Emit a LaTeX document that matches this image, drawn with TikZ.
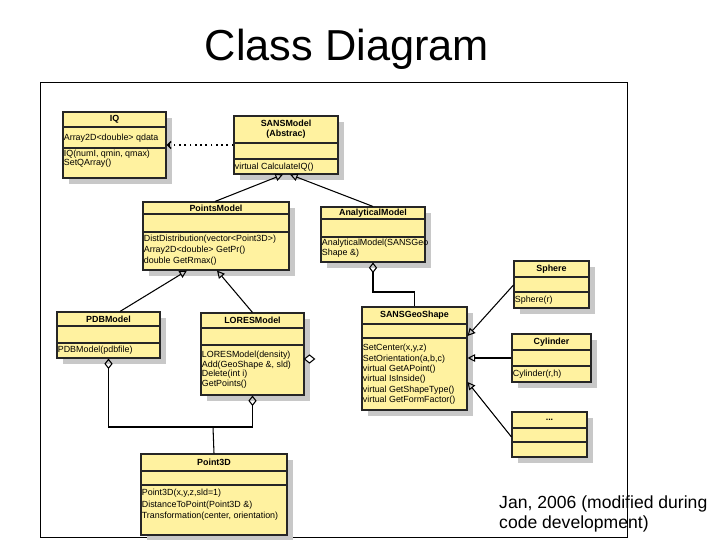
\documentclass[tikz,border=0pt]{standalone}
\usepackage{fontspec}
\setmainfont{Liberation Sans}
\usetikzlibrary{arrows.meta,fit,shadows}
\definecolor{umlyellow}{RGB}{255,242,160}
\definecolor{umlshadow}{RGB}{200,200,200}

\begin{document}
\begin{tikzpicture}[x=0.03cm,y=-0.03cm,
	umlbox/.style={draw=black!85, line width=0.9pt, fill=umlyellow, inner sep=0pt,
		drop shadow={shadow xshift=0.18cm, shadow yshift=-0.18cm, fill=umlshadow, opacity=1}},
	umlsep/.style={draw=black!85, line width=0.9pt},
	umltitle/.style={font=\fontsize{7.6}{8.6}\selectfont\bfseries, align=center, inner sep=0pt},
	umltext/.style={font=\fontsize{7.6}{#1}\selectfont, align=left, anchor=north west, inner xsep=1pt, inner ysep=0pt},
	umltext/.default=8.5,
	inherit/.style={line width=0.9pt, -{Triangle[open, length=6.5pt, width=6.5pt]}},
	aggr/.style={line width=0.9pt, {Diamond[open, length=9pt, width=7pt]}-},
	aggrboth/.style={line width=0.9pt, {Diamond[open, length=9pt, width=7pt]}-{Diamond[open, length=9pt, width=7pt]}},
	depend/.style={line width=1.2pt, dash pattern=on 1.5pt off 3pt, -{Straight Barb[length=3pt, width=6pt]}}]
	\useasboundingbox (0,0) rectangle (720,540);

	% slide title and frame
	\node[font=\fontsize{37}{40}\selectfont, anchor=base] (title) at (347,61) {Class Diagram};
	\draw[line width=0.8pt] (40,82) rectangle (627,537);

	% IQ
	\node[umlbox, fit={(63,112) (166,178)}] (iq) {};
	\draw[umlsep] (iq.west |- 0,127) -- (iq.east |- 0,127);
	\draw[umlsep] (iq.west |- 0,148) -- (iq.east |- 0,148);
	\node[umltitle] (iqname) at (iq.north |- 0,119.5) {IQ};
	\node[umltext] (iqattr) at (iq.west |- 0,133.5) {Array2D<double> qdata};
	\node[umltext=7.6pt] (iqops) at (iq.west |- 0,150) {IQ(numI, qmin, qmax)\\SetQArray()};

	% SANSModel
	\node[umlbox, fit={(234,116) (338,174)}] (sans) {};
	\draw[umlsep] (sans.west |- 0,143) -- (sans.east |- 0,143);
	\draw[umlsep] (sans.west |- 0,159) -- (sans.east |- 0,159);
	\node[umltitle] (sansname) at (sans.north |- 0,129.5) {SANSModel\\(Abstrac)};
	\node[umltext] (sansops) at (sans.west |- 0,162.5) {virtual CalculateIQ()};

	% PointsModel
	\node[umlbox, fit={(143,202) (289,270)}] (points) {};
	\draw[umlsep] (points.west |- 0,214) -- (points.east |- 0,214);
	\draw[umlsep] (points.west |- 0,232) -- (points.east |- 0,232);
	\node[umltitle] (pointsname) at (points.north |- 0,208) {PointsModel};
	\node[umltext=9.4pt] (pointsops) at (points.west |- 0,235) {DistDistribution(vector<Point3D>)\\Array2D<double> GetPr()\\double GetRmax()};

	% AnalyticalModel
	\node[umlbox, fit={(321,207) (425,262)}] (ana) {};
	\draw[umlsep] (ana.west |- 0,219) -- (ana.east |- 0,219);
	\draw[umlsep] (ana.west |- 0,237) -- (ana.east |- 0,237);
	\node[umltitle] (ananame) at (ana.north |- 0,213) {AnalyticalModel};
	\node[umltext] (anaops) at (ana.west |- 0,239) {AnalyticalModel(SANSGeo\\Shape \&)};

	% PDBModel
	\node[umlbox, fit={(57,312) (160,358)}] (pdb) {};
	\draw[umlsep] (pdb.west |- 0,326) -- (pdb.east |- 0,326);
	\draw[umlsep] (pdb.west |- 0,343) -- (pdb.east |- 0,343);
	\node[umltitle] (pdbname) at (pdb.north |- 0,319) {PDBModel};
	\node[umltext] (pdbops) at (pdb.west |- 0,346) {PDBModel(pdbfile)};

	% LORESModel
	\node[umlbox, fit={(201,313) (304,395)}] (lores) {};
	\draw[umlsep] (lores.west |- 0,328) -- (lores.east |- 0,328);
	\draw[umlsep] (lores.west |- 0,345) -- (lores.east |- 0,345);
	\node[umltitle] (loresname) at (lores.north |- 0,320.5) {LORESModel};
	\node[umltext=8.2pt] (loresops) at (lores.west |- 0,351) {LORESModel(density)\\Add(GeoShape \&, sld)\\Delete(int i)\\GetPoints()};

	% SANSGeoShape
	\node[umlbox, fit={(362,307) (467,410)}] (geo) {};
	\draw[umlsep] (geo.west |- 0,324) -- (geo.east |- 0,324);
	\draw[umlsep] (geo.west |- 0,338) -- (geo.east |- 0,338);
	\node[umltitle] (geoname) at (geo.north |- 0,315.5) {SANSGeoShape};
	\node[umltext=8.9pt] (geoops) at (geo.west |- 0,344) {SetCenter(x,y,z)\\SetOrientation(a,b,c)\\virtual GetAPoint()\\virtual IsInside()\\virtual GetShapeType()\\virtual GetFormFactor()};

	% shapes
	\node[umlbox, fit={(514,261) (589,308)}] (sphere) {};
	\draw[umlsep] (sphere.west |- 0,277) -- (sphere.east |- 0,277);
	\draw[umlsep] (sphere.west |- 0,292) -- (sphere.east |- 0,292);
	\node[umltitle] (spherename) at (sphere.north |- 0,269) {Sphere};
	\node[umltext] (sphereops) at (sphere.west |- 0,296) {Sphere(r)};

	\node[umlbox, fit={(512,334) (591,382)}] (cyl) {};
	\draw[umlsep] (cyl.west |- 0,350) -- (cyl.east |- 0,350);
	\draw[umlsep] (cyl.west |- 0,366) -- (cyl.east |- 0,366);
	\node[umltitle] (cylname) at (cyl.north |- 0,342) {Cylinder};
	\node[umltext] (cylops) at (cyl.west |- 0,370) {Cylinder(r,h)};

	\node[umlbox, fit={(512,412) (587,457)}] (more) {};
	\draw[umlsep] (more.west |- 0,428) -- (more.east |- 0,428);
	\draw[umlsep] (more.west |- 0,442) -- (more.east |- 0,442);
	\node[umltitle] (morename) at (more.north |- 0,420) {...};

	% Point3D
	\node[umlbox, fit={(141,454) (287,535)}] (p3d) {};
	\draw[umlsep] (p3d.west |- 0,471) -- (p3d.east |- 0,471);
	\draw[umlsep] (p3d.west |- 0,485) -- (p3d.east |- 0,485);
	\node[umltitle] (p3dname) at (p3d.north |- 0,462.5) {Point3D};
	\node[umltext=9.8pt] (p3dops) at (p3d.west |- 0,489) {Point3D(x,y,z,sld=1)\\DistanceToPoint(Point3D \&)\\Transformation(center, orientation)};

	% generalisation
	\draw[inherit] (points.north -| 215,0) -- (sans.south -| 283,0);
	\draw[inherit] (ana.north) -- (sans.south -| 290,0);
	\draw[inherit] (pdb.north -| 120,0) -- (points.south -| 187,0);
	\draw[inherit] (lores.north) -- (points.south -| 217,0);
	\draw[inherit] (sphere.west |- 0,285) -- (geo.east |- 0,336);
	\draw[inherit] (cyl.west |- 0,358) -- (geo.east |- 0,358);
	\draw[inherit] (more.west |- 0,437) -- (geo.east |- 0,382);

	% dependency
	\draw[depend] (sans.west |- 0,145) -- (iq.east |- 0,145);

	% aggregation
	\draw[aggr] (ana.south) |- (geo.north |- 0,292) -- (geo.north);
	\coordinate (bus) at (213,427);
	\draw[aggrboth] (pdb.south) |- (bus) -| (lores.south);
	\draw[line width=0.9pt] (bus) -- (p3d.north);
	\draw[line width=0.9pt, fill=white] (lores.east |- 0,359) -- ++(5,-4) -- ++(5,4) -- ++(-5,4) -- cycle;

	% date note
	\node[font=\fontsize{15}{16.4}\selectfont, align=left, anchor=north west, inner sep=0pt] (date) at (499,496) {Jan, 2006 (modified during\\code development)};
\end{tikzpicture}
\end{document}
